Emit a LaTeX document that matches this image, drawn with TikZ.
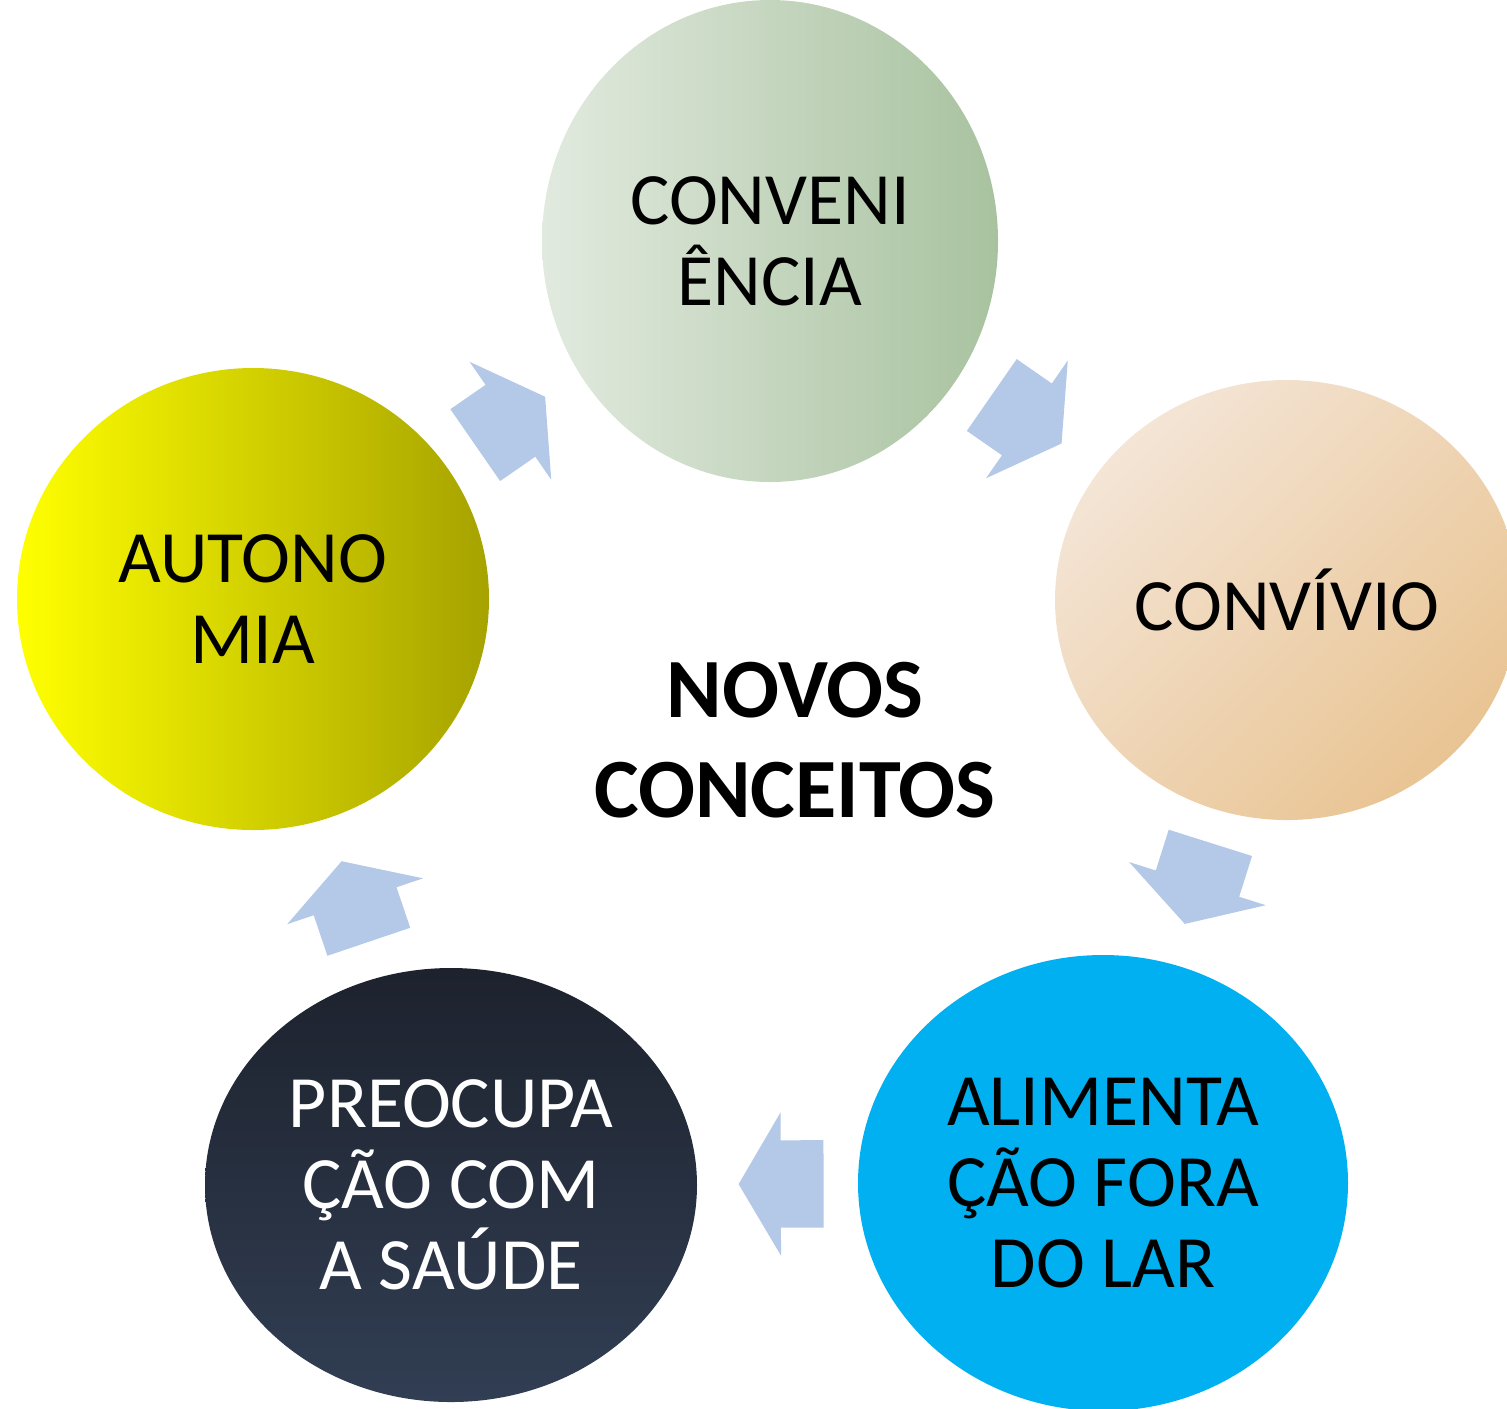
\documentclass[tikz,border=0pt]{standalone}
\usepackage{fontspec}
\setmainfont{Carlito}
\usetikzlibrary{shapes.geometric, shapes.arrows, positioning}
\definecolor{convleft}{HTML}{E2EADF}
\definecolor{convright}{HTML}{A8C29F}
\definecolor{vivlight}{HTML}{F4E5D6}
\definecolor{vivdark}{HTML}{E9C493}
\definecolor{alimblue}{HTML}{00B0F0}
\definecolor{preotop}{HTML}{1D222D}
\definecolor{preobottom}{HTML}{313E53}
\definecolor{autoleft}{HTML}{FFFF00}
\definecolor{autoright}{HTML}{A6A200}
\definecolor{arrowblue}{HTML}{B4C8E7}

\begin{document}
\begin{tikzpicture}[
  bubble/.style={ellipse,inner sep=0pt,outer sep=0pt,align=center,font=\fontsize{21}{23}\selectfont},
  % block arrows between the bubbles
  cyclearrow/.style={single arrow,fill=arrowblue,draw=none,inner xsep=0pt,inner ysep=4.3mm,minimum height=8.5mm,
    single arrow head extend=2.8mm,single arrow tip angle=119,single arrow head indent=0pt,sloped,allow upside down}
]
\clip (0,0) rectangle (15.07,-14.08);

% Bubbles round the cycle (clockwise from the top)
\node[bubble,minimum width=45.6mm,minimum height=48.2mm,left color=convleft,right color=convright] (conveniencia) at (7.70,-2.41) {CONVENI\\ÊNCIA};
\node[bubble,minimum width=46.4mm,minimum height=44mm,top color=vivlight,bottom color=vivdark,shading angle=45] (convivio) at (12.87,-6.00) {CONVÍVIO};
\node[bubble,minimum width=49mm,minimum height=45.6mm,fill=alimblue] (alimentacao) at (11.03,-11.83) {ALIMENTA\\ÇÃO FORA\\DO LAR};
\node[bubble,minimum width=49.2mm,minimum height=43.4mm,top color=preotop,bottom color=preobottom,text=white] (preocupacao) at (4.51,-11.85) {PREOCUPA\\ÇÃO COM\\A SAÚDE};
\node[bubble,minimum width=47.2mm,minimum height=46.2mm,left color=autoleft,right color=autoright] (autonomia) at (2.53,-5.99) {AUTONO\\MIA};

% Centre title
\node[font=\bfseries\fontsize{24}{28.5}\selectfont,align=center] (titulo) at (7.95,-7.40) {NOVOS\\CONCEITOS};

% Arrows between the bubble centres
\path (autonomia.center) -- node[cyclearrow,pos=0.477] (seta1) {} (conveniencia.center);
\path (conveniencia.center) -- node[cyclearrow,pos=0.476] (seta2) {} (convivio.center);
\path (convivio.center) -- node[cyclearrow,pos=0.465] (seta3) {} (alimentacao.center);
\path (alimentacao.center) -- node[cyclearrow,pos=0.474] (seta4) {} (preocupacao.center);
\path (preocupacao.center) -- node[cyclearrow,pos=0.463] (seta5) {} (autonomia.center);
\end{tikzpicture}
\end{document}
